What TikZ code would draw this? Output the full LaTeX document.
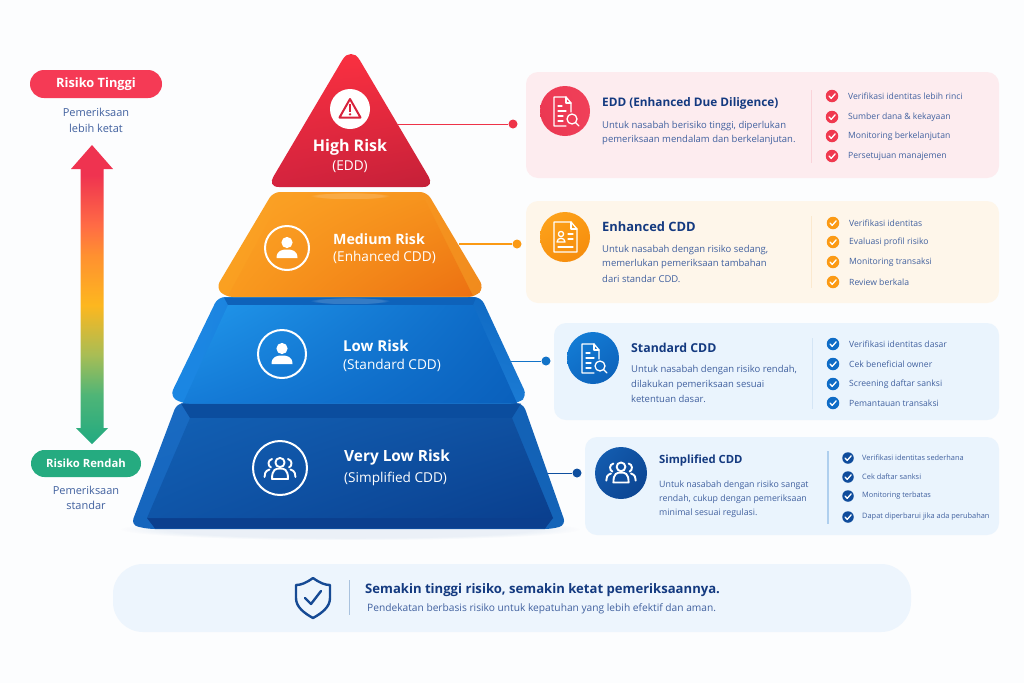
\documentclass[tikz,border=0pt]{standalone}
\usepackage{fontspec}
\setmainfont{Open Sans}
\usetikzlibrary{fadings,shapes.geometric,shadings}
\newcommand{\dc}[1]{\definecolor{HTML#1}{HTML}{#1}}
\dc{FCFDFE}\dc{1464B8}\dc{0B4D9E}\dc{0B3F8E}\dc{1565BD}\dc{0F4F9F}\dc{0F55A8}\dc{0A3F8E}\dc{1678D4}\dc{0E62BA}\dc{2198EC}\dc{0C67C4}\dc{157CD8}\dc{0A60BC}\dc{F79A1F}\dc{FCA426}\dc{F58E1A}\dc{F98F1C}\dc{EC7012}\dc{FA3141}\dc{F92F40}\dc{D4233E}\dc{C42038}\dc{D8233C}\dc{FDECEF}\dc{FEF6EA}\dc{EAF4FD}\dc{EE3348}\dc{1273C8}\dc{EE3A55}\dc{F0405A}\dc{F04058}\dc{E93650}\dc{FAD3D9}\dc{FDA51E}\dc{F9930F}\dc{F48A0C}\dc{FBE9CF}\dc{1480D8}\dc{1172CC}\dc{0F6CC6}\dc{0C5FB6}\dc{D4E5F5}\dc{1460B4}\dc{104F9F}\dc{0B428E}\dc{AFCFEE}\dc{F53A55}\dc{EDF5FD}\dc{164A94}\dc{A9C2DE}\dc{4FB577}\dc{A8BD55}\dc{FDB71F}\dc{FF9030}\dc{FF6B45}\dc{EF3350}\dc{FB9A14}\dc{FAA020}\dc{F5911E}\dc{F08A1D}\dc{1E8AE6}\dc{1A86E2}\dc{0E66BF}\dc{1B7BD4}\dc{1A6CC4}\dc{1258AC}\dc{1260B4}\dc{F99A1E}
\definecolor{navy}{HTML}{143A80}
\definecolor{bodyc}{HTML}{41619F}
\definecolor{redc}{HTML}{F0394F}
\definecolor{orac}{HTML}{FB9A14}
\definecolor{bluc}{HTML}{0F6CC6}
\definecolor{dbluc}{HTML}{0F4C9C}
\definecolor{grnc}{HTML}{25AB80}
\pgfdeclareverticalshading{riskgrad}{100bp}{color(0bp)=(grnc);color(25.7bp)=(grnc);color(33.2bp)=(HTML4FB577);color(39.9bp)=(HTMLA8BD55);color(48.2bp)=(HTMLFDB71F);color(56.6bp)=(HTMLFF9030);color(61.6bp)=(HTMLFF6B45);color(70bp)=(HTMLEF3350);color(100bp)=(HTMLEF3350)}
\tikzset{
  cardbox/.style={rounded corners=12pt,draw=none},
  titletext/.style={anchor=west,inner sep=0pt,text=navy,font=\fontsize{12.3}{14}\selectfont\bfseries},
  bodytext/.style={anchor=west,inner sep=0pt,text=bodyc,font=\fontsize{9.5}{12}\selectfont},
  listtext/.style={anchor=west,inner sep=0pt,text=bodyc,font=\fontsize{8.6}{10}\selectfont},
  smalllist/.style={anchor=west,inner sep=0pt,text=bodyc,font=\fontsize{7.4}{10}\selectfont},
  tiertitle/.style={anchor=west,inner sep=0pt,text=white,font=\fontsize{14.2}{16}\selectfont\bfseries},
  tiersub/.style={anchor=west,inner sep=0pt,text=white,font=\fontsize{13.6}{15}\selectfont},
  sidetext/.style={inner sep=0pt,text=bodyc,font=\fontsize{11}{13}\selectfont},
  pilltext/.style={inner sep=0pt,text=white,font=\fontsize{12.8}{14}\selectfont\bfseries},
  dotnode/.style={circle,inner sep=0pt,minimum size=9pt},
  iconline/.style={draw=white,line width=1.3pt,line cap=round,line join=round},
  ringnode/.style={circle,draw=white,line width=2pt,inner sep=0pt},
  glowpatch/.style={white,opacity=.16,path fading=circle with fuzzy edge 20 percent},
}
\newcommand{\chk}[6]{% name,x,y,color,style,text
  \node[circle,fill=#4,inner sep=0pt,minimum size=12.5pt] (#1c) at (#2,#3) {};
  \draw[white,line width=1.3pt,line cap=round,line join=round] ([shift={(-3,0)}]#1c.center) -- ++(2.2,2.4) -- ++(4,-4.6);
  \node[#5] (#1t) at (#2+16,#3) {#6};
}
\newcommand{\chks}[6]{% name,x,y,color,style,text (closer text)
  \node[circle,fill=#4,inner sep=0pt,minimum size=11.5pt] (#1c) at (#2,#3) {};
  \draw[white,line width=1.3pt,line cap=round,line join=round] ([shift={(-3,0)}]#1c.center) -- ++(2.2,2.4) -- ++(4,-4.6);
  \node[#5] (#1t) at (#2+14,#3) {#6};
}
\newcommand{\docsearch}[2]{%
  \begin{scope}[shift={(#1,#2)}]
    \draw[iconline] (6,1) -- (6,-8) -- (1,-14) -- (-11,-14) -- (-11,15) -- (1,15);
    \draw[iconline] (1,-14) -- (1,-8) -- (6,-8);
    \draw[iconline] (-7,-5) -- (-3,-5) (-7,0) -- (1,0) (-7,5) -- (-2,5) (-7,10) -- (-2,10);
    \draw[iconline] (7,8) circle (5);
    \draw[iconline] (10.5,11.5) -- (14,15);
  \end{scope}}
\newcommand{\docperson}[2]{%
  \begin{scope}[shift={(#1,#2)}]
    \draw[iconline] (12,-8) -- (12,15) -- (-11,15) -- (-11,-15) -- (6,-15) -- (12,-8);
    \draw[iconline] (6,-15) -- (6,-8) -- (12,-8);
    \draw[iconline] (-4,-3) circle (2.6);
    \draw[iconline] (-8,5) .. controls (-8,0) and (0,0) .. (0,5) -- cycle;
    \draw[iconline] (3,-3) -- (8,-3) (3,2) -- (8,2) (-7,10) -- (8,10);
  \end{scope}}
\newcommand{\personicon}[3]{% x,y,scale
  \begin{scope}[shift={(#1,#2)},scale=#3]
    \fill[white] (0,-6.5) circle (5.6);
    \fill[white] (-10.5,9) .. controls (-10.5,1) and (-4,0.5) .. (0,0.5) .. controls (4,0.5) and (10.5,1) .. (10.5,9) -- cycle;
  \end{scope}}
\newcommand{\groupicon}[3]{% x,y,scale
  \begin{scope}[shift={(#1,#2)},scale=#3]
    \draw[white,line width=1.9pt,line cap=round,line join=round] (0,-6.5) circle (4.6);
    \draw[white,line width=1.9pt,line cap=round,line join=round] (-8,10) .. controls (-8,0) and (-4,-0.5) .. (0,-0.5) .. controls (4,-0.5) and (8,0) .. (8,10) -- cycle;
    \draw[white,line width=1.9pt,line cap=round] (-8,-10) .. controls (-12.5,-9) and (-12.5,-3) .. (-9,-1.5);
    \draw[white,line width=1.9pt,line cap=round] (8,-10) .. controls (12.5,-9) and (12.5,-3) .. (9,-1.5);
    \draw[white,line width=1.9pt,line cap=round] (-10.5,0.5) .. controls (-15,2) and (-15.5,5) .. (-15.5,8);
    \draw[white,line width=1.9pt,line cap=round] (10.5,0.5) .. controls (15,2) and (15.5,5) .. (15.5,8);
  \end{scope}}
\begin{document}
\begin{tikzpicture}[x=1pt,y=-1pt]
\useasboundingbox (0,0) rectangle (1024,683);
\fill[HTMLFCFDFE] (0,0) rectangle (1024,683);

% ---- soft shadow below the pyramid
\fill[HTML0F4F9F,opacity=.07,path fading=circle with fuzzy edge 20 percent] (120,518) rectangle (580,540);

% ---- very low tier
\shade[rounded corners=7pt,upper left=HTML1A6CC4,upper right=HTML1260B4,lower left=HTML1565BD,lower right=HTML1464B8] (177,403) -- (523,403) -- (566,525) -- (552,529) -- (148,529) -- (131,525) -- cycle;
\fill[HTML0B4D9E] (181,403.5) -- (521,403.5) -- (512,418) -- (190,418) -- cycle;
\fill[HTML0B3F8E] (147,518) -- (553,518) -- (545,528.5) -- (155,528.5) -- cycle;
\shade[upper left=HTML1260B4,upper right=HTML0F4F9F,lower left=HTML0F55A8,lower right=HTML0A3F8E] (190,418) -- (512,418) -- (553,518) -- (147,518) -- cycle;

% ---- low tier
\shade[rounded corners=7pt,upper left=HTML1E8AE6,upper right=HTML0E66BF,lower left=HTML1A86E2,lower right=HTML1B7BD4] (218,297) -- (481,297) -- (527,396) -- (518,403.5) -- (182,403.5) -- (170,396) -- cycle;
\fill[HTML0E62BA] (224,297.5) -- (476,297.5) -- (473,305) -- (228,305) -- cycle;
\shade[upper left=HTML2198EC,upper right=HTML0C67C4,lower left=HTML157CD8,lower right=HTML0A60BC] (228,305) -- (473,305) -- (517,403) -- (183,403) -- cycle;
\fill[glowpatch] (310,297.5) rectangle (390,304);

% ---- medium tier
\shade[rounded corners=7pt,upper left=HTMLFCA426,upper right=HTMLF5911E,lower left=HTMLFAA020,lower right=HTMLF08A1D] (273,192) -- (427,192) -- (484,288) -- (475,297) -- (226,297) -- (216,288) -- cycle;
\shade[upper left=HTMLFCA426,upper right=HTMLF58E1A,lower left=HTMLF99A1E,lower right=HTMLEC7012] (280,200) -- (425,200) -- (473,296) -- (228,296) -- cycle;
\fill[glowpatch] (310,192.5) rectangle (390,199);

% ---- high tier
\shade[upper left=HTMLFA3141,upper right=HTMLF92F40,lower left=HTMLD4233E,lower right=HTMLC42038] (351,54) .. controls (354.5,54) and (357,55.5) .. (360,60.5) -- (428.5,176.5) .. controls (431.5,181.5) and (431,187) .. (423,187) -- (279,187) .. controls (271,187) and (270.5,181.5) .. (273.5,176.5) -- (342,60.5) .. controls (345,55.5) and (347.5,54) .. (351,54) -- cycle;

% ---- tier contents
\node[circle,fill=white,minimum size=40pt,inner sep=0pt] (warnring) at (350,109) {};
\draw[HTMLD8233C,line width=2pt,line join=round] (350,99) -- (360.5,117.5) -- (339.5,117.5) -- cycle;
\fill[HTMLD8233C] (348.9,104) rectangle (351.1,111.5);
\fill[HTMLD8233C] (350,114.3) circle (1.3);
\node[tiertitle,anchor=center,font=\fontsize{16}{18}\selectfont\bfseries] (high) at (350,147) {High Risk};
\node[tiersub,anchor=center] (highs) at (350,167) {(EDD)};

\node[ringnode,minimum size=44pt] (medring) at (287,248) {};
\personicon{287}{249}{1}
\node[tiertitle] (med) at (333,239) {Medium Risk};
\node[tiersub] (meds) at (333,257) {(Enhanced CDD)};

\node[ringnode,minimum size=48pt] (lowring) at (282,354) {};
\personicon{282}{355}{1}
\node[tiertitle,font=\fontsize{15}{17}\selectfont\bfseries] (low) at (343,346) {Low Risk};
\node[tiersub] (lows) at (343,365) {(Standard CDD)};

\node[ringnode,minimum size=54pt] (vlring) at (280,468) {};
\groupicon{280}{469}{1}
\node[tiertitle,font=\fontsize{15.4}{17}\selectfont\bfseries] (vl) at (344,457) {Very Low Risk};
\node[tiersub] (vls) at (344,479) {(Simplified CDD)};

% ---- cards
\fill[HTMLFDECEF,cardbox] (526,72) rectangle (999,178);
\fill[HTMLFEF6EA,cardbox] (526,201) rectangle (999,303);
\fill[HTMLEAF4FD,cardbox] (554,323) rectangle (999,420);
\fill[HTMLEAF4FD,cardbox] (585,437) rectangle (999,535);

% ---- connectors
\coordinate (e1) at (398,124);
\coordinate (e2) at (459,244);
\coordinate (e3) at (510,361);
\coordinate (e4) at (548,473);
\node[dotnode,fill=HTMLEE3348] (d1) at (513,124) {};
\node[dotnode,fill=orac] (d2) at (517,244) {};
\node[dotnode,fill=HTML1273C8] (d3) at (546,361) {};
\node[dotnode,fill=HTML0F4F9F] (d4) at (577,473) {};
\draw[HTMLEE3348,line width=1pt] (e1) -- (d1);
\draw[orac,line width=1.3pt] (e2) -- (d2);
\draw[HTML1273C8,line width=1pt] (e3) -- (d3);
\draw[HTML0F4F9F,line width=1pt] (e4) -- (d4);

% ---- card 1
\shade[upper left=HTMLEE3A55,lower right=HTMLF0405A,upper right=HTMLF04058,lower left=HTMLE93650] (565,111) circle (25);
\docsearch{565}{111}
\node[titletext,font=\fontsize{11.8}{14}\selectfont\bfseries] (c1t) at (602,103) {EDD (Enhanced Due Diligence)};
\node[bodytext] (c1a) at (602,126) {Untuk nasabah berisiko tinggi, diperlukan};
\node[bodytext] (c1b) at (602,140) {pemeriksaan mendalam dan berkelanjutan.};
\draw[HTMLFAD3D9,line width=1pt] (811,90) coordinate (v1a) -- (811,163) coordinate (v1b);
\chk{a1}{832}{96}{redc}{listtext}{Verifikasi identitas lebih rinci}
\chk{a2}{832}{117}{redc}{listtext}{Sumber dana \& kekayaan}
\chk{a3}{832}{136}{redc}{listtext}{Monitoring berkelanjutan}
\chk{a4}{832}{156}{redc}{listtext}{Persetujuan manajemen}

% ---- card 2
\shade[upper left=HTMLFDA51E,upper right=HTMLFB9A14,lower left=HTMLF9930F,lower right=HTMLF48A0C] (565,237) circle (25);
\docperson{565}{237}
\node[titletext,font=\fontsize{12.9}{14}\selectfont\bfseries] (c2t) at (602,227) {Enhanced CDD};
\node[bodytext] (c2a) at (602,250) {Untuk nasabah dengan risiko sedang,};
\node[bodytext] (c2b) at (602,264) {memerlukan pemeriksaan tambahan};
\node[bodytext] (c2c) at (602,279) {dari standar CDD.};
\draw[HTMLFBE9CF,line width=1pt] (811,216) coordinate (v2a) -- (811,288) coordinate (v2b);
\chk{b1}{833}{223}{orac}{listtext}{Verifikasi identitas}
\chk{b2}{833}{242}{orac}{listtext}{Evaluasi profil risiko}
\chk{b3}{833}{262}{orac}{listtext}{Monitoring transaksi}
\chk{b4}{833}{282}{orac}{listtext}{Review berkala}

% ---- card 3
\shade[upper left=HTML1480D8,upper right=HTML1172CC,lower left=HTML0F6CC6,lower right=HTML0C5FB6] (593,358) circle (26);
\docsearch{593}{358}
\node[titletext] (c3t) at (631,348) {Standard CDD};
\node[bodytext] (c3a) at (631,370) {Untuk nasabah dengan risiko rendah,};
\node[bodytext] (c3b) at (631,385) {dilakukan pemeriksaan sesuai};
\node[bodytext] (c3c) at (631,399) {ketentuan dasar.};
\draw[HTMLD4E5F5,line width=1pt] (812,338) coordinate (v3a) -- (812,409) coordinate (v3b);
\chk{g1}{833}{344}{bluc}{listtext}{Verifikasi identitas dasar}
\chk{g2}{833}{364}{bluc}{listtext}{Cek beneficial owner}
\chk{g3}{833}{384}{bluc}{listtext}{Screening daftar sanksi}
\chk{g4}{833}{403}{bluc}{listtext}{Pemantauan transaksi}

% ---- card 4
\shade[upper left=HTML1460B4,upper right=HTML0F4F9F,lower left=HTML104F9F,lower right=HTML0B428E] (621,473) circle (26);
\groupicon{621}{473}{.95}
\node[titletext,font=\fontsize{11.3}{14}\selectfont\bfseries] (c4t) at (659,461) {Simplified CDD};
\node[bodytext,font=\fontsize{8.8}{11}\selectfont] (c4a) at (659,485) {Untuk nasabah dengan risiko sangat};
\node[bodytext,font=\fontsize{8.8}{11}\selectfont] (c4b) at (659,499) {rendah, cukup dengan pemeriksaan};
\node[bodytext,font=\fontsize{8.8}{11}\selectfont] (c4c) at (659,513) {minimal sesuai regulasi.};
\draw[HTMLAFCFEE,line width=1.2pt] (828,451) coordinate (v4a) -- (828,524) coordinate (v4b);
\chks{h1}{848}{458}{dbluc}{smalllist}{Verifikasi identitas sederhana}
\chks{h2}{848}{477}{dbluc}{smalllist}{Cek daftar sanksi}
\chks{h3}{848}{496}{dbluc}{smalllist}{Monitoring terbatas}
\chks{h4}{848}{517}{dbluc}{smalllist}{Dapat diperbarui jika ada perubahan}

% ---- left scale
\node[rounded corners=14pt,fill=HTMLF53A55,minimum width=132pt,minimum height=28pt,inner sep=0pt] (hi) at (96,84) {};
\node[pilltext] (hit) at (96,84) {Risiko Tinggi};
\node[sidetext] (hia) at (96,112) {Pemeriksaan};
\node[sidetext] (hib) at (96,128) {lebih ketat};
\path[shading=riskgrad,shading angle=0] (92,145) -- (113,169) -- (103.5,169) -- (103.5,428) -- (108,428) -- (92,444) -- (76,428) -- (80.5,428) -- (80.5,169) -- (71,169) -- cycle;
\node[rounded corners=13.5pt,fill=grnc,minimum width=110pt,minimum height=27pt,inner sep=0pt] (lo) at (86,463.5) {};
\node[pilltext,font=\fontsize{11.3}{14}\selectfont\bfseries] (lot) at (86,463.5) {Risiko Rendah};
\node[sidetext] (loa) at (86,490) {Pemeriksaan};
\node[sidetext] (lob) at (86,505) {standar};

% ---- bottom bar
\fill[HTMLEDF5FD,rounded corners=30pt] (113,564) rectangle (911,632);
\draw[HTML164A94,line width=2.4pt,line join=round] (313,578) .. controls (320,583) and (325,585) .. (330,585) -- (330,598) .. controls (330,607) and (322,613) .. (313,618) .. controls (304,613) and (296,607) .. (296,598) -- (296,585) .. controls (301,585) and (306,583) .. (313,578) -- cycle;
\draw[HTML164A94,line width=2.4pt,line cap=round,line join=round] (305,598) -- (311,604) -- (321,591);
\draw[HTMLA9C2DE,line width=1pt] (349,580) coordinate (v5a) -- (349,615) coordinate (v5b);
\node[anchor=west,inner sep=0pt,text=navy,font=\fontsize{13.1}{15}\selectfont\bfseries] (bt) at (365,590) {Semakin tinggi risiko, semakin ketat pemeriksaannya.};
\node[anchor=west,inner sep=0pt,text=bodyc,font=\fontsize{10.2}{12}\selectfont] (bs) at (367,609) {Pendekatan berbasis risiko untuk kepatuhan yang lebih efektif dan aman.};
\end{tikzpicture}
\end{document}
